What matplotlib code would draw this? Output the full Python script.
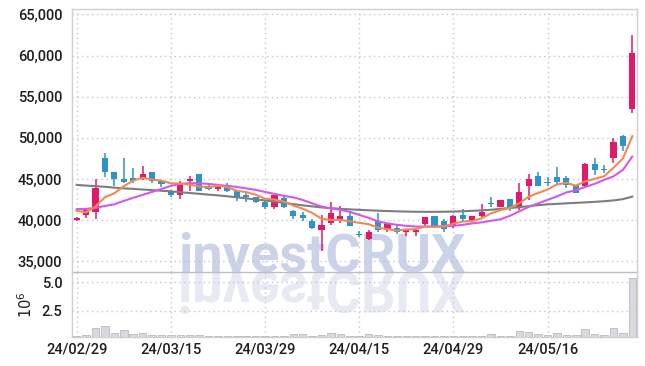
import matplotlib
matplotlib.use('Agg')

import numpy as np
import pandas as pd
import matplotlib.pyplot as plt
from matplotlib.textpath import TextPath
from matplotlib.font_manager import FontProperties
from matplotlib.patches import PathPatch
from matplotlib.transforms import Affine2D, IdentityTransform

plt.rcParams['font.family'] = ['Roboto', 'DejaVu Sans']
plt.rcParams['font.weight'] = 'medium'

# trading days (yy/mm/dd)
dates = ['24/02/29', '24/03/04', '24/03/05', '24/03/06', '24/03/07', '24/03/08',
         '24/03/11', '24/03/12', '24/03/13', '24/03/14', '24/03/15', '24/03/18',
         '24/03/19', '24/03/20', '24/03/21', '24/03/22', '24/03/25', '24/03/26',
         '24/03/27', '24/03/28', '24/03/29', '24/04/01', '24/04/02', '24/04/03',
         '24/04/04', '24/04/05', '24/04/08', '24/04/09', '24/04/11', '24/04/12',
         '24/04/15', '24/04/16', '24/04/17', '24/04/18', '24/04/19', '24/04/22',
         '24/04/23', '24/04/24', '24/04/25', '24/04/26', '24/04/29', '24/04/30',
         '24/05/02', '24/05/03', '24/05/07', '24/05/08', '24/05/09', '24/05/10',
         '24/05/13', '24/05/14', '24/05/16', '24/05/17', '24/05/20', '24/05/21',
         '24/05/22', '24/05/23', '24/05/24', '24/05/27', '24/05/28', '24/05/29']

opens = [40000, 40650, 41050, 47500, 45800, 45000, 45100, 45100, 45850, 44800,
         43600, 43000, 44700, 45600, 44100, 43800, 44200, 43600, 43050, 42800,
         42250, 41600, 42650, 41150, 40650, 39850, 38750, 39700, 40050, 40500,
         38350, 37750, 39950, 38750, 39050, 38550, 38550, 39500, 40500, 39850,
         39250, 40650, 39850, 40450, 42000, 41650, 42550, 41450, 44150, 45400,
         44650, 45200, 45100, 44300, 44200, 46850, 46250, 47500, 50250, 53500]
highs = [40400, 41500, 45000, 48100, 45800, 47500, 46300, 46600, 45900, 44900,
         43700, 44800, 45400, 45650, 44550, 44150, 44500, 43700, 43300, 42850,
         42450, 43100, 42900, 41200, 40950, 40150, 40650, 42150, 41750, 41000,
         38650, 38750, 40850, 39700, 39450, 38950, 39100, 40400, 40550, 40100,
         40600, 41350, 40550, 42000, 42800, 42500, 42600, 44550, 45600, 45800,
         45300, 46500, 45400, 44300, 47000, 47500, 46700, 49950, 50350, 62500]
lows = [39900, 40250, 40150, 45300, 44200, 44500, 44500, 44900, 44500, 44050,
        42800, 42600, 43600, 43500, 43650, 43600, 43450, 42350, 42200, 42100,
        41350, 41300, 41450, 40100, 39850, 38900, 36300, 39450, 39650, 39300,
        38000, 37550, 38600, 38600, 38300, 38100, 38100, 39300, 39200, 38600,
        39050, 39950, 39800, 40350, 41650, 41600, 41150, 41250, 42450, 44100,
        44100, 44400, 43900, 43250, 43950, 45500, 45700, 46900, 48450, 53000]
closes = [40300, 41250, 43950, 45800, 45000, 44600, 44700, 45650, 44700, 44350,
          43000, 44550, 45000, 43600, 43800, 44050, 43600, 42800, 42800, 42200,
          41650, 43000, 41600, 40450, 40250, 39100, 39450, 40850, 40500, 39350,
          38250, 38600, 38750, 39550, 38550, 38850, 38850, 40350, 39300, 38900,
          40500, 40150, 40500, 41050, 41950, 42450, 41450, 43400, 45000, 44200,
          44550, 44600, 44300, 43300, 46800, 46100, 46150, 49450, 48950, 60350]

# volume, millions of shares
volume = [0.27, 0.36, 0.95, 1.15, 0.51, 0.77, 0.45, 0.51, 0.33, 0.33,
          0.33, 0.33, 0.33, 0.36, 0.27, 0.27, 0.30, 0.25, 0.22, 0.25,
          0.25, 0.30, 0.27, 0.42, 0.40, 0.30, 0.36, 0.50, 0.42, 0.30,
          0.25, 0.42, 0.36, 0.25, 0.22, 0.22, 0.22, 0.27, 0.25, 0.22,
          0.25, 0.25, 0.22, 0.30, 0.42, 0.27, 0.30, 0.69, 0.60, 0.45,
          0.33, 0.51, 0.33, 0.33, 0.86, 0.42, 0.33, 0.95, 0.51, 5.35]

# first four 5-day MA values (history before the window)
ma5_head = [41130, 40950, 41650, 42790]

ma20 = [41330, 41370, 41490, 41730, 41920, 42340, 42710, 43070, 43430, 43800,
        44160, 44410, 44490, 44490, 44400, 44280, 44160, 44040, 43860, 43680,
        43430, 43190, 42950, 42770, 42460, 42040, 41650, 41430, 41250, 41010,
        40640, 40280, 39850, 39610, 39430, 39310, 39220, 39220, 39220, 39250,
        39310, 39430, 39610, 39730, 39920, 40100, 40520, 41070, 41610, 42040,
        42460, 42890, 43370, 43620, 44040, 44410, 44890, 45320, 46100, 47720]

ma60 = [44280, 44200, 44130, 44050, 43950, 43860, 43800, 43720, 43650, 43570,
        43500, 43400, 43300, 43200, 43100, 43010, 42900, 42780, 42650, 42520,
        42400, 42250, 42100, 41950, 41800, 41670, 41550, 41450, 41380, 41310,
        41250, 41200, 41150, 41110, 41070, 41040, 41020, 41010, 41010, 41020,
        41040, 41080, 41130, 41190, 41260, 41370, 41470, 41580, 41700, 41820,
        41920, 41980, 42040, 42100, 42160, 42220, 42300, 42400, 42550, 42860]

df = pd.DataFrame({'open': opens, 'high': highs, 'low': lows, 'close': closes,
                   'volume': volume, 'ma20': ma20, 'ma60': ma60})
df['ma5'] = df['close'].rolling(5).mean()
df.loc[:3, 'ma5'] = ma5_head
x = np.arange(len(df))

UP = '#e2196b'
DOWN = '#2d93c9'
GRID = '#c3c6d6'
SPINE = '#cfcfd6'
TXT = '#1e1e1e'

fig = plt.figure(figsize=(6.45, 3.66), dpi=100)
fig.patch.set_facecolor('white')
ax = fig.add_axes([0.1116, 0.2568, 0.876, 0.7186])
axv = fig.add_axes([0.1116, 0.0801, 0.876, 0.1767], sharex=ax)

# watermark: real text plus a mirrored reflection below the baseline
wm_font = FontProperties(family='Roboto', weight='bold', size=39)
fig.text(178 / 645, 1 - 272 / 366, 'investCRUX', fontproperties=wm_font,
         color='#ccd2e8', ha='left', va='baseline', zorder=-2)
tp = TextPath((0, 0), 'investCRUX', prop=wm_font, size=39 * 100 / 72)
refl = Affine2D().scale(1, -1.05).translate(178, 366 - 272)
fig.patches.append(PathPatch(refl.transform_path(tp), facecolor='#e7e9f3', edgecolor='none',
                             transform=IdentityTransform(), zorder=-2))

for a in (ax, axv):
    a.set_facecolor('none')
    for s in a.spines.values():
        s.set_color(SPINE)
        s.set_linewidth(1.0)
    a.tick_params(length=0, colors=TXT, labelsize=10.5)
    a.grid(True, color=GRID, linestyle=(0, (1, 2.5)), linewidth=1.0)
    a.set_axisbelow(True)

# candles
up = df['close'] >= df['open']
colors = np.where(up, UP, DOWN)
ax.vlines(x, df['low'], df['high'], color=colors, linewidth=1.1, zorder=3)
body_lo = np.minimum(df['open'], df['close'])
body_h = np.maximum(np.abs(df['close'] - df['open']), 120)
ax.bar(x, body_h, bottom=body_lo, width=0.66, color=colors, zorder=4)

# moving averages
ax.plot(x, df['ma60'], color='#7d7d7d', linewidth=1.5, zorder=5)
ax.plot(x, df['ma20'], color='#cf5be6', linewidth=1.5, zorder=5)
ax.plot(x, df['ma5'], color='#f08a52', linewidth=1.5, zorder=5)

ax.set_xlim(-0.5, 59.5)
ax.set_ylim(33700, 65650)
ax.set_yticks(np.arange(35000, 65001, 5000))
ax.set_yticklabels([f'{v:,}' for v in range(35000, 65001, 5000)])
ax.tick_params(axis='y', pad=7)
ax.tick_params(axis='x', labelbottom=False)
ax.spines['bottom'].set_color('#bdbdc4')

# volume
axv.bar(x, df['volume'], width=0.8, color='#d8d8dd', edgecolor='#b9b9c2', linewidth=0.6, zorder=3)
axv.set_ylim(0.2, 5.9)
axv.set_yticks([2.5, 5.0])
axv.set_yticklabels(['2.5', '5.0'])
axv.tick_params(axis='y', pad=7)
axv.set_ylabel(r'$10^6$', color=TXT, fontsize=10.5, labelpad=5)
axv.spines['top'].set_visible(False)

ticks = list(range(0, len(dates), 10))
axv.set_xticks(ticks)
axv.set_xticklabels([dates[i] for i in ticks], fontsize=10.5)
axv.tick_params(axis='x', pad=4)

fig.savefig('out.png', dpi=100)
